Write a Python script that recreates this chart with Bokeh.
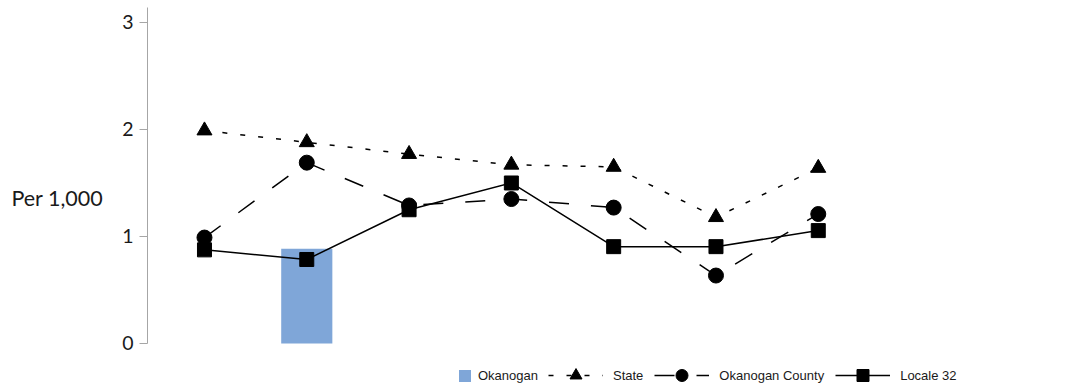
import math
from bokeh.plotting import figure
from bokeh.models import (ColumnDataSource, Legend, LegendItem, Label,
                          FixedTicker, Range1d)
from bokeh.embed import file_html
from bokeh.resources import INLINE

# ---- data ----
categories = ["1", "2", "3", "4", "5", "6", "7"]
okanogan = [math.nan, 0.885, math.nan, math.nan, math.nan, math.nan, math.nan]
state = [1.99, 1.88, 1.77, 1.67, 1.65, 1.18, 1.64]
county = [0.99, 1.69, 1.29, 1.35, 1.27, 0.635, 1.21]
locale = [0.875, 0.785, 1.25, 1.50, 0.905, 0.905, 1.055]
y_ticks = [0, 1, 2, 3]
y_label = "Per 1,000"
series_names = ["Okanogan", "State", "Okanogan County", "Locale 32"]

xs = list(range(len(categories)))

p = figure(width=1073, height=388, output_backend="svg", toolbar_location=None,
           x_range=Range1d(-0.557, 8.495), y_range=Range1d(-0.4206, 3.14),
           x_axis_location=None, y_axis_location="left",
           min_border_left=147, min_border_right=0, min_border_top=7,
           min_border_bottom=0)
p.outline_line_color = None
p.grid.visible = False
p.background_fill_color = "white"

ax = p.yaxis[0]
ax.bounds = (0, 3.14)
ax.ticker = FixedTicker(ticks=y_ticks)
ax.major_tick_out = 8
ax.major_tick_in = 0
ax.minor_tick_out = 0
ax.minor_tick_in = 0
ax.major_label_standoff = 6
ax.axis_line_color = "#A6A6A6"
ax.major_tick_line_color = "#A6A6A6"
ax.major_label_text_font = "Lato"
ax.major_label_text_font_size = "19.5px"
ax.major_label_text_color = "#1a1a1a"

ax.axis_label = y_label
ax.axis_label_orientation = "horizontal"
ax.axis_label_standoff = 16
ax.axis_label_text_font = "Lato"
ax.axis_label_text_font_size = "21.5px"
ax.axis_label_text_font_style = "normal"
ax.axis_label_text_color = "#1a1a1a"
ax.axis_label_text_baseline = "bottom"

# bars
bar_x = [x for x, v in zip(xs, okanogan) if not math.isnan(v)]
bar_top = [v for v in okanogan if not math.isnan(v)]
bar_src = ColumnDataSource(dict(x=bar_x, top=bar_top))
bar_r = p.vbar(x="x", top="top", bottom=0, width=0.5, source=bar_src,
               fill_color="#7FA6D8", line_color=None)

src = ColumnDataSource(dict(x=xs, state=state, county=county, locale=locale))

st_l = p.line("x", "state", source=src, line_color="black", line_width=1.5,
              line_dash="5 13")
st_m = p.scatter("x", "state", source=src, marker="triangle", size=15,
                 fill_color="black", line_color="black")
co_l = p.line("x", "county", source=src, line_color="black", line_width=1.5,
              line_dash="20 22")
co_m = p.scatter("x", "county", source=src, marker="circle", size=15,
                 fill_color="black", line_color="black")
lo_l = p.line("x", "locale", source=src, line_color="black", line_width=1.5)
lo_m = p.scatter("x", "locale", source=src, marker="square", size=14,
                 fill_color="black", line_color="black")

common = dict(orientation="horizontal", padding=0, margin=0,
              border_line_color=None, background_fill_alpha=0,
              label_text_font="Liberation Sans", label_text_font_size="13px",
              label_text_color="#1a1a1a", label_height=16)

legend_a = Legend(items=[LegendItem(label=series_names[0], renderers=[bar_r])],
                  location=(310, 5), glyph_width=15, glyph_height=15,
                  label_standoff=6, **common)
legend_b = Legend(items=[
    LegendItem(label=series_names[1], renderers=[st_l, st_m]),
    LegendItem(label=series_names[2], renderers=[co_l, co_m]),
    LegendItem(label=series_names[3], renderers=[lo_l, lo_m]),
], location=(401, -2), glyph_width=55, glyph_height=30, label_standoff=10,
    spacing=11, **common)
p.add_layout(legend_a)
p.add_layout(legend_b)

open("out.html", "w").write(file_html(p, INLINE))
